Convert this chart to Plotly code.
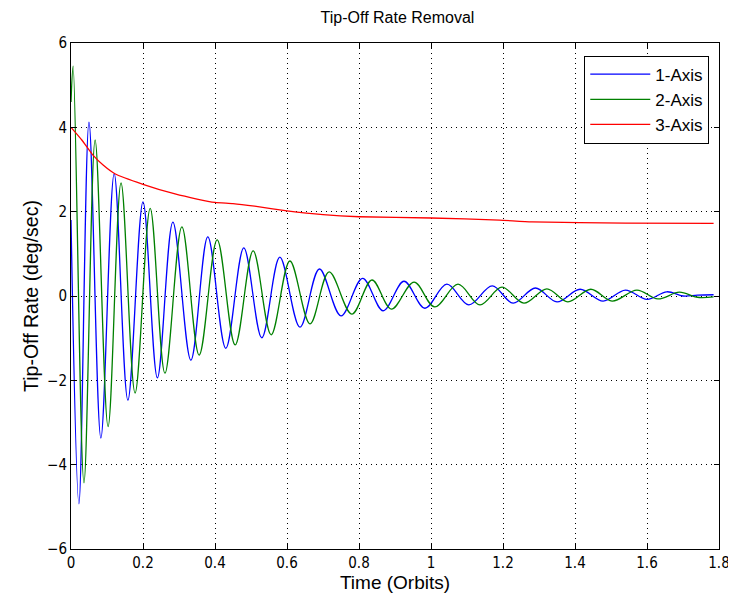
import plotly.graph_objects as go

# Extrema (time in orbits, rate in deg/sec)
t_axis1 = [0.0, 0.022, 0.050, 0.083, 0.120, 0.158, 0.200, 0.240, 0.283, 0.333, 0.380,
           0.430, 0.480, 0.530, 0.580, 0.636, 0.690, 0.750, 0.810, 0.867, 0.925, 0.983,
           1.044, 1.105, 1.170, 1.228, 1.290, 1.350, 1.414, 1.478, 1.540, 1.600, 1.655,
           1.700, 1.740, 1.785]
v_axis1 = [1.8, -4.93, 4.12, -3.37, 2.90, -2.47, 2.23, -1.94, 1.75, -1.52, 1.40,
           -1.24, 1.14, -0.99, 0.92, -0.74, 0.64, -0.47, 0.42, -0.35, 0.35, -0.29,
           0.28, -0.21, 0.24, -0.17, 0.19, -0.14, 0.16, -0.12, 0.14, -0.08, 0.10,
           0.0, 0.02, 0.03]

t_axis2 = [0.0, 0.006, 0.036, 0.067, 0.103, 0.139, 0.178, 0.220, 0.261, 0.308, 0.356,
           0.406, 0.456, 0.506, 0.556, 0.608, 0.664, 0.717, 0.780, 0.836, 0.890, 0.953,
           1.010, 1.075, 1.136, 1.197, 1.258, 1.322, 1.380, 1.444, 1.503, 1.572, 1.630,
           1.690, 1.740, 1.785]
v_axis2 = [4.6, 5.45, -4.43, 3.70, -3.10, 2.68, -2.30, 2.08, -1.83, 1.64, -1.40,
           1.33, -1.16, 1.07, -0.92, 0.83, -0.66, 0.57, -0.43, 0.38, -0.31, 0.33,
           -0.26, 0.28, -0.21, 0.21, -0.17, 0.17, -0.14, 0.16, -0.12, 0.14, -0.07,
           0.09, -0.03, -0.02]

t_axis3 = [0.0, 0.03, 0.061, 0.09, 0.122, 0.200, 0.289, 0.35, 0.400, 0.450, 0.510,
           0.600, 0.70, 0.800, 1.000, 1.190, 1.280, 1.540, 1.785]
v_axis3 = [4.0, 3.70, 3.34, 3.10, 2.90, 2.65, 2.42, 2.30, 2.22, 2.19, 2.13,
           2.02, 1.93, 1.88, 1.85, 1.80, 1.76, 1.73, 1.72]

x_ticks = [0, 0.2, 0.4, 0.6, 0.8, 1, 1.2, 1.4, 1.6, 1.8]
x_tick_text = ["0", "0.2", "0.4", "0.6", "0.8", "1", "1.2", "1.4", "1.6", "1.8"]
y_ticks = [-6, -4, -2, 0, 2, 4, 6]

fig = go.Figure()
fig.add_trace(go.Scatter(x=t_axis1, y=v_axis1, mode="lines", name="1-Axis",
                         line=dict(color="#0000ff", width=1.3, shape="spline", smoothing=1.0)))
fig.add_trace(go.Scatter(x=t_axis2, y=v_axis2, mode="lines", name="2-Axis",
                         line=dict(color="#008000", width=1.3, shape="spline", smoothing=1.0)))
fig.add_trace(go.Scatter(x=t_axis3, y=v_axis3, mode="lines", name="3-Axis",
                         line=dict(color="#ff0000", width=1.3, shape="spline", smoothing=0.5)))

tick_font = dict(family="Liberation Sans Narrow, DejaVu Sans Condensed, Liberation Sans, sans-serif",
                 size=15, color="black")

axis_common = dict(
    showline=True, linecolor="black", linewidth=1, mirror="ticks",
    ticks="inside", ticklen=5, tickcolor="black",
    showgrid=True, gridcolor="black", gridwidth=1, griddash="1px,4px",
    zeroline=False, tickfont=tick_font, automargin=False,
)

fig.update_layout(
    width=728, height=595,
    margin=dict(l=63, r=17, t=35, b=54),
    paper_bgcolor="white", plot_bgcolor="white",
    font=dict(family="Liberation Sans, Arial, sans-serif", size=14, color="black"),
    title=dict(text="Tip-Off Rate Removal", x=0.535, xanchor="center",
               y=0.985, yanchor="middle", font=dict(size=16)),
    xaxis=dict(range=[0, 1.8], tickvals=x_ticks, ticktext=x_tick_text,
               title=dict(text="Time (Orbits)", standoff=2, font=dict(size=19)), **axis_common),
    yaxis=dict(range=[-6, 6], tickvals=y_ticks,
               title=dict(text="Tip-Off Rate (deg/sec)", standoff=3, font=dict(size=19.5)), **axis_common),
    legend=dict(x=0.985, y=0.975, xanchor="right", yanchor="top",
                bgcolor="white", bordercolor="black", borderwidth=1,
                font=dict(size=17), itemwidth=60, tracegroupgap=0),
    showlegend=True,
)

fig.write_html("out.html")
